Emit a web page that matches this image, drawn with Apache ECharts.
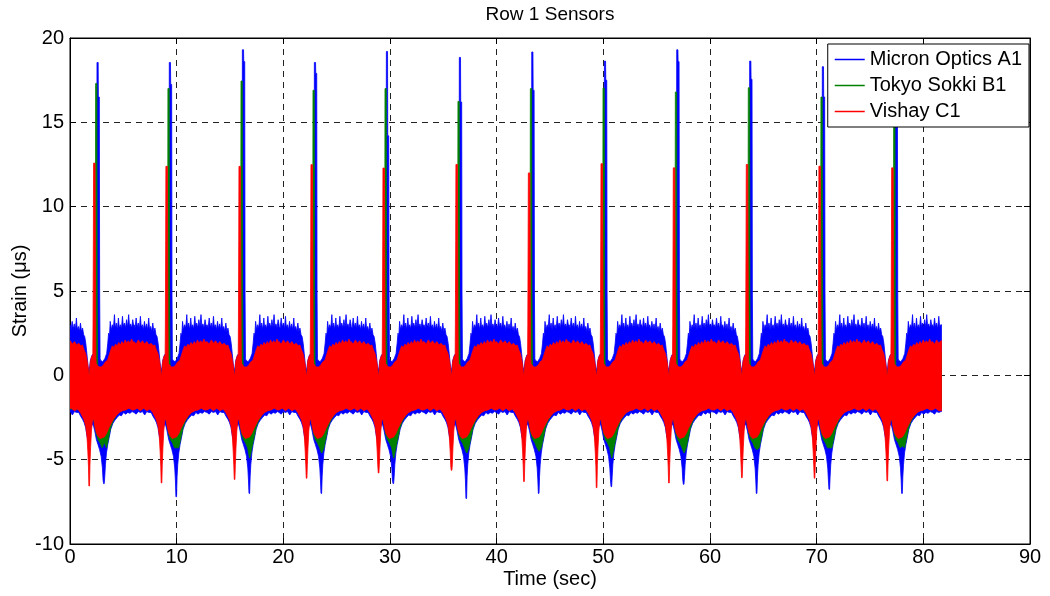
<!DOCTYPE html>
<html><head><meta charset="utf-8">
<script src="https://cdn.jsdelivr.net/npm/echarts@6/dist/echarts.min.js"></script>
<style>html,body{margin:0;padding:0;background:#fff}#c{width:1050px;height:596px}</style>
</head><body><div id="c"></div>
<script>
// ---------- data ----------
const seriesNames = ['Micron Optics A1', 'Tokyo Sokki B1', 'Vishay C1'];
const xTickValues = [0, 10, 20, 30, 40, 50, 60, 70, 80, 90];
const yTickValues = [-10, -5, 0, 5, 10, 15, 20];
const endTime = 81.7;
// time of each blue (Micron Optics) spike, sec
const eventTimes = [2.62, 9.40, 16.25, 23.00, 29.75, 36.59, 43.38, 50.19, 56.97, 63.81, 70.62, 77.44];
const tailEventTime = 84.25;
const bluePeaks   = [18.55, 18.55, 19.3, 18.55, 19.2, 18.85, 19.17, 18.63, 19.3, 18.63, 18.3, 18.4];
const blueSecond  = [16.5, 17.25, 18.6, 17.9, 14.2, 16.2, 16.9, 17.5, 18.6, 17.55, 16.5, 16.5];
const greenPeaks  = [17.3, 17.0, 17.45, 16.9, 17.0, 16.24, 17.0, 17.03, 16.8, 17.05, 16.5, 16.5];
const redPeaks    = [12.58, 12.39, 12.39, 12.49, 12.29, 12.5, 12.0, 12.55, 12.3, 12.5, 12.4, 12.3];
const redDips     = [-6.56, -6.38, -6.17, -6.1, -5.79, -5.63, -6.3, -6.66, -6.38, -6.07, -6.1, -6.26];
const blueDips    = [-6.42, -7.2, -7.0, -7.0, -6.42, -7.3, -7.0, -6.6, -6.46, -7.0, -6.76, -7.0];
const greenDips   = [-4.0, -4.3, -4.9, -4.6, -4.9, -4.6, -4.5, -4.9, -4.6, -4.4, -4.3, -4.2];

// envelope of one cycle, [seconds from the spike, strain]
const blueTopProfile = [[-3.4,3.0],[-3.3,2.8],[-3.2,3.4],[-3.1,2.85],[-3.0,3.1],[-2.9,2.75],[-2.8,3.5],[-2.72,2.85],
  [-2.62,3.0],[-2.52,2.7],[-2.42,3.2],[-2.32,2.75],[-2.22,3.05],[-2.12,2.7],[-2.02,3.4],[-1.94,2.7],[-1.84,2.9],
  [-1.74,2.6],[-1.64,3.1],[-1.54,2.6],[-1.44,2.8],[-1.34,2.4],[-1.24,2.3],[-1.14,1.9],[-1.04,1.3],[-0.92,0.5],
  [-0.82,0.3],[-0.7,0.9],[-0.55,1.2],[-0.4,1.3],[-0.25,1.3],[-0.14,1.4],
  [0.24,0.9],[0.45,0.8],[0.65,1.0],[0.82,1.3],[0.92,1.9],[1.0,2.5],[1.08,2.3],[1.15,3.2],[1.25,2.7],[1.35,3.0],
  [1.45,2.8],[1.55,3.6],[1.62,2.8],[1.72,3.1],[1.82,2.7],[1.92,3.4],[2.0,2.8],[2.1,3.0],[2.2,2.75],[2.3,3.5],
  [2.38,2.9],[2.48,3.1],[2.58,2.8],[2.68,3.3],[2.78,2.85],[2.88,3.6],[2.96,2.9],[3.06,3.05],[3.16,2.8],[3.26,3.3],[3.36,2.9]];
const blueBottomProfile = [[-3.4,-2.2],[-3.2,-2.3],[-3.0,-2.15],[-2.8,-2.2],[-2.6,-2.15],[-2.4,-2.35],[-2.2,-2.15],
  [-2.0,-2.2],[-1.8,-2.2],[-1.6,-2.45],[-1.45,-2.6],[-1.3,-2.8],[-1.15,-3.1],[-1.03,-3.6],[-0.92,-3.9],[-0.82,-3.7],
  [-0.72,-3.3],[-0.6,-3.0],[-0.45,-2.9],[-0.3,-3.3],[-0.15,-3.8],[0.0,-4.1],[0.15,-4.4],[0.3,-4.8],[0.42,-5.5],
  [0.48,-6.2],[0.64,-6.0],[0.7,-5.3],[0.8,-4.6],[0.92,-4.1],[1.05,-3.7],[1.2,-3.2],[1.4,-2.85],[1.6,-2.65],
  [1.8,-2.5],[2.0,-2.35],[2.2,-2.4],[2.4,-2.2],[2.6,-2.3],[2.8,-2.2],[3.0,-2.25],[3.2,-2.15]];
const greenTopProfile = [[-3.4,1.4],[-1.3,1.3],[-1.1,0.9],[-0.95,0.3],[-0.85,-0.3],[-0.75,0.3],[-0.6,0.8],[-0.4,0.9],
  [-0.27,0.9],[0.0,0.5],[0.3,0.3],[0.6,0.4],[0.9,0.7],[1.1,1.0],[1.3,1.3],[1.5,1.4],[3.3,1.4]];
const greenBottomProfile = [[-3.4,-1.9],[-1.5,-2.0],[-1.2,-2.6],[-1.05,-3.1],[-0.92,-3.5],[-0.82,-3.8],[-0.72,-3.2],
  [-0.55,-2.5],[-0.4,-2.6],[-0.28,-3.0],[-0.15,-3.5],[0.0,-3.8],[0.2,-4.0],[0.4,-4.3],[0.8,-4.3],[1.0,-3.7],
  [1.2,-3.1],[1.4,-2.75],[1.7,-2.4],[2.0,-2.1],[2.4,-1.95],[3.3,-1.9]];
const redTopProfile = [[-3.4,2.0],[-3.2,1.85],[-3.0,2.1],[-2.8,1.9],[-2.6,2.05],[-2.4,1.85],[-2.2,2.0],[-2.0,1.8],
  [-1.8,1.9],[-1.6,1.75],[-1.45,1.8],[-1.3,1.5],[-1.15,1.3],[-1.02,0.9],[-0.92,0.5],[-0.85,0.0],[-0.79,0.1],
  [-0.72,0.8],[-0.6,1.1],[-0.5,1.2],[-0.48,1.3],[-0.16,0.7],[-0.05,0.6],[0.1,0.5],[0.3,0.5],[0.5,0.6],[0.7,0.8],
  [0.9,0.9],[1.05,1.2],[1.2,1.5],[1.35,1.75],[1.5,1.65],[1.65,1.85],[1.8,1.75],[1.95,1.95],[2.1,1.8],[2.25,2.0],
  [2.4,1.85],[2.55,2.1],[2.7,1.9],[2.85,2.05],[3.0,1.9],[3.15,2.15],[3.3,1.95]];
const redBottomProfile = [[-3.4,-2.05],[-3.1,-1.95],[-2.8,-2.1],[-2.5,-1.95],[-2.2,-2.1],[-1.9,-2.0],[-1.65,-2.2],
  [-1.45,-2.45],[-1.3,-2.65],[-1.15,-3.0],[-1.03,-3.6],[-0.95,-4.5],[-0.89,-5.4],[-0.75,-5.3],[-0.69,-4.3],
  [-0.61,-3.3],[-0.52,-2.7],[-0.4,-2.6],[-0.3,-3.0],[-0.15,-3.4],[0.0,-3.6],[0.2,-3.75],[0.4,-3.7],[0.6,-3.65],
  [0.8,-3.45],[1.0,-3.15],[1.2,-2.9],[1.45,-2.6],[1.7,-2.4],[2.0,-2.2],[2.3,-2.1],[2.6,-2.05],[2.9,-1.95],[3.2,-2.05]];

// ---------- build envelopes ----------
const allEvents = eventTimes.concat([tailEventTime]);
function edge(profile, extra) {
  let pts = [];
  allEvents.forEach((B, k) => {
    profile.forEach(p => pts.push([B + p[0], p[1]]));
    if (k < eventTimes.length) extra(B, k).forEach(p => pts.push(p));
  });
  pts.sort((a, b) => a[0] - b[0]);
  pts = pts.filter(p => p[0] >= 0 && p[0] <= endTime);
  pts.unshift([0, pts[0][1]]);
  pts.push([endTime, pts[pts.length - 1][1]]);
  return pts;
}
const blueTop = edge(blueTopProfile, (B, k) => [[B-0.12,3.0],[B-0.09,bluePeaks[k]],[B+0.02,bluePeaks[k]],
  [B+0.04,blueSecond[k]],[B+0.13,blueSecond[k]],[B+0.16,5.0],[B+0.2,1.0]]);
const blueBottom = edge(blueBottomProfile, (B, k) => [[B+0.53,blueDips[k]],[B+0.59,blueDips[k]]]);
const greenTop = edge(greenTopProfile, (B, k) => [[B-0.25,3.0],[B-0.22,greenPeaks[k]],[B-0.1,greenPeaks[k]],[B-0.07,5.0],[B-0.03,0.8]]);
const greenBottom = edge(greenBottomProfile, (B, k) => [[B+0.58,greenDips[k]],[B+0.62,greenDips[k]]]);
const redTop = edge(redTopProfile, (B, k) => [[B-0.46,3.0],[B-0.43,8.0],[B-0.41,redPeaks[k]],[B-0.27,redPeaks[k]],
  [B-0.25,9.0],[B-0.21,3.0],[B-0.19,1.0]]);
const redBottom = edge(redBottomProfile, (B, k) => [[B-0.85,redDips[k]],[B-0.79,redDips[k]]]);

function band(name, color, top, bottom, z) {
  const poly = top.concat(bottom.slice().reverse());
  return {
    name: name, type: 'custom', coordinateSystem: 'cartesian2d', clip: true, z: z,
    itemStyle: { color: color },
    encode: { x: 0, y: 1 },
    data: poly,
    renderItem: function (params, api) {
      if (params.dataIndex !== 0) return null;
      const pts = poly.map(p => api.coord(p));
      return { type: 'polygon', shape: { points: pts },
        style: { fill: color, stroke: color, lineWidth: 0.8, lineJoin: 'round' } };
    }
  };
}

const FONT = '"Liberation Sans", Arial, sans-serif';
const chart = echarts.init(document.getElementById('c'), null, { renderer: 'canvas' });
const dashed = { show: true, lineStyle: { color: '#222', width: 1, type: [6, 5] } };
const tickStyle = { show: true, inside: true, length: 6, lineStyle: { color: '#000' } };
const lineStyle = { show: true, onZero: false, lineStyle: { color: '#000' } };
chart.setOption({
  animation: false,
  backgroundColor: '#fff',
  graphic: [{ type: 'text', x: 550, y: 15, z: 10,
    style: { text: 'Row 1 Sensors', fill: '#000', fontSize: 19, fontFamily: FONT, align: 'center', verticalAlign: 'middle' } }],
  grid: { left: 70, right: 20, top: 38, bottom: 52, show: true, borderColor: '#000', borderWidth: 1,
    backgroundColor: 'transparent', containLabel: false, outerBoundsMode: 'none' },
  legend: {
    orient: 'vertical', right: 21, top: 44, z: 20,
    backgroundColor: '#fff', borderColor: '#000', borderWidth: 1, padding: [4, 7, 4, 7],
    itemWidth: 30, itemHeight: 1.5, itemGap: 3,
    textStyle: { fontSize: 20, fontFamily: FONT, color: '#000', lineHeight: 23 },
    data: seriesNames.map(n => ({ name: n, icon: 'rect' }))
  },
  xAxis: [{
    type: 'value', min: 0, max: 90, interval: 10, position: 'bottom',
    name: 'Time (sec)', nameLocation: 'middle', nameGap: 25, nameMoveOverlap: false,
    nameTextStyle: { fontSize: 20, fontFamily: FONT, color: '#000' },
    axisLine: lineStyle, axisTick: tickStyle,
    axisLabel: { fontSize: 20, fontFamily: FONT, color: '#000', margin: 3, formatter: v => String(v) },
    splitLine: dashed
  }, {
    type: 'value', min: 0, max: 90, interval: 10, position: 'top',
    axisLine: lineStyle, axisTick: tickStyle,
    axisLabel: { show: false }, splitLine: { show: false }
  }],
  yAxis: [{
    type: 'value', min: -10, max: 20, interval: 5, position: 'left',
    name: 'Strain (μs)', nameLocation: 'middle', nameGap: 40, nameMoveOverlap: false,
    nameTextStyle: { fontSize: 20, fontFamily: FONT, color: '#000' },
    axisLine: lineStyle, axisTick: tickStyle,
    axisLabel: { fontSize: 20, fontFamily: FONT, color: '#000', margin: 6, formatter: v => String(v) },
    splitLine: dashed
  }, {
    type: 'value', min: -10, max: 20, interval: 5, position: 'right',
    axisLine: lineStyle, axisTick: tickStyle,
    axisLabel: { show: false }, splitLine: { show: false }
  }],
  series: [
    band(seriesNames[0], '#0000ff', blueTop, blueBottom, 2),
    band(seriesNames[1], '#008000', greenTop, greenBottom, 3),
    band(seriesNames[2], '#ff0000', redTop, redBottom, 4)
  ]
});
</script></body></html>
